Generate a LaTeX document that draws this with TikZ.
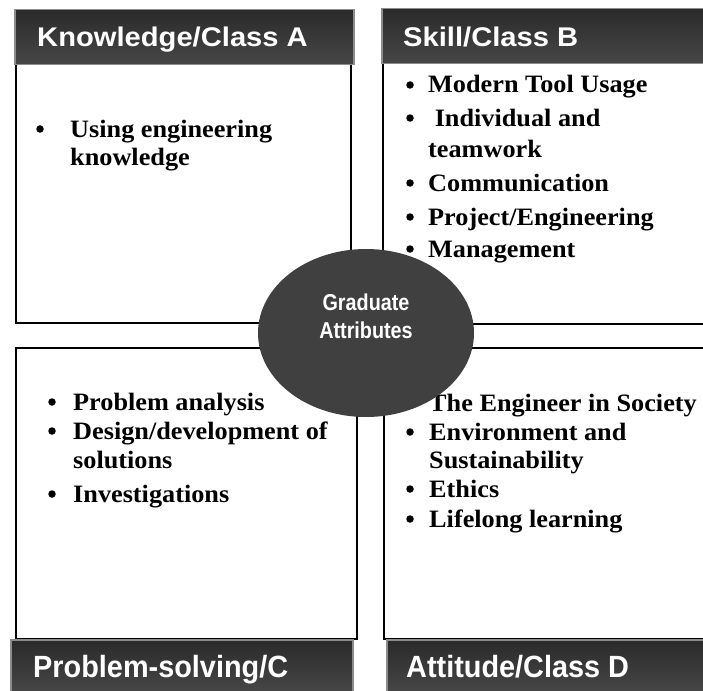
\documentclass[tikz,border=0pt]{standalone}
\usepackage{fontspec}
\usetikzlibrary{shapes.geometric}
\setmainfont{Liberation Serif}
\newfontfamily\headsans[FakeStretch=1.08]{Liberation Sans}
\newfontfamily\footsans[FakeStretch=0.94]{Liberation Sans}
\newfontfamily\hubsans[FakeStretch=0.86]{Liberation Sans}
\newfontfamily\itemserif[FakeStretch=1.05]{Liberation Serif}
\definecolor{hubgray}{HTML}{404040}
\definecolor{headtop}{HTML}{2A2A2A}
\definecolor{headbot}{HTML}{474747}

\begin{document}
\begin{tikzpicture}
    [x=1pt,y=-1pt,
     frame/.style ={draw=black,line width=2pt},
     headbar/.style ={draw=black!45,line width=1.5pt,top color=headtop,bottom color=headbot,
                      inner sep=0pt,anchor=north west},
     toptitle/.style ={anchor=base west,inner sep=0pt,text=white,font=\headsans\bfseries\fontsize{27}{30}\selectfont},
     bottitle/.style ={anchor=base west,inner sep=0pt,text=white,font=\footsans\bfseries\fontsize{30.7}{34}\selectfont},
     item/.style ={anchor=base west,inner sep=0pt,font=\itemserif\bfseries\fontsize{25}{29}\selectfont},
     dot/.style ={circle,fill=black,inner sep=0pt,minimum size=7.5pt}]
    \clip (0,0) rectangle (703,690);

    % the four quadrants
    \draw[frame] (16,64) rectangle (351,323);
    \draw[frame] (383,63) rectangle (720,324);
    \draw[frame] (16,348) rectangle (357,639);
    \draw[frame] (384,348) rectangle (720,639);

    % title bars
    \node[headbar,minimum width=339pt,minimum height=55pt] (barA) at (14,9) {};
    \node[headbar,minimum width=340pt,minimum height=55pt] (barB) at (381,8) {};
    \node[headbar,minimum width=342pt,minimum height=53pt] (barC) at (10,639) {};
    \node[headbar,minimum width=340pt,minimum height=53pt] (barD) at (386,639) {};
    \node[toptitle] (headA) at (37,47) {Knowledge/Class A};
    \node[toptitle] (headB) at (403,47) {Skill/Class B};
    \node[bottitle] (headC) at (33,677) {Problem-solving/C};
    \node[bottitle] (headD) at (406,677) {Attitude/Class D};

    % class A
    \node[dot] (dotA1) at (40,129) {};
    \node[item] (itemA1) at (70,137) {Using engineering};
    \node[item] (itemA2) at (70,165) {knowledge};

    % class C
    \foreach \y/\txt [count=\i] in {410/Problem analysis,439/Design\slash development of,502/Investigations}
        {\node[dot] (dotC\i) at (52,\y-8) {};
         \node[item] (itemC\i) at (73,\y) {\txt};}
    \node[item] (itemC4) at (73,468) {solutions};

    % class D, partly hidden by the hub
    \foreach \y/\txt [count=\i] in {411/The Engineer in Society,440/Environment and,497/Ethics,527/Lifelong learning}
        {\node[dot] (dotD\i) at (410,\y-8) {};
         \node[item] (itemD\i) at (429,\y) {\txt};}
    \node[item] (itemD5) at (429,468) {Sustainability};

    % hub
    \node[ellipse,fill=hubgray,minimum width=216pt,minimum height=168pt,inner sep=0pt] (hub) at (366,333) {};
    \node[align=center,text=white,font=\hubsans\bfseries\fontsize{23}{28}\selectfont] (hubtitle) at (366,316) {Graduate\\Attributes};

    % class B, drawn over the hub
    \foreach \y/\txt [count=\i] in {93/Modern Tool Usage,126/\ Individual and,191/Communication,225/Project\slash Engineering,257/Management}
        {\node[dot] (dotB\i) at (410,\y-8) {};
         \node[item] (itemB\i) at (428,\y) {\txt};}
    \node[item] (itemB6) at (428,157) {teamwork};
\end{tikzpicture}
\end{document}
